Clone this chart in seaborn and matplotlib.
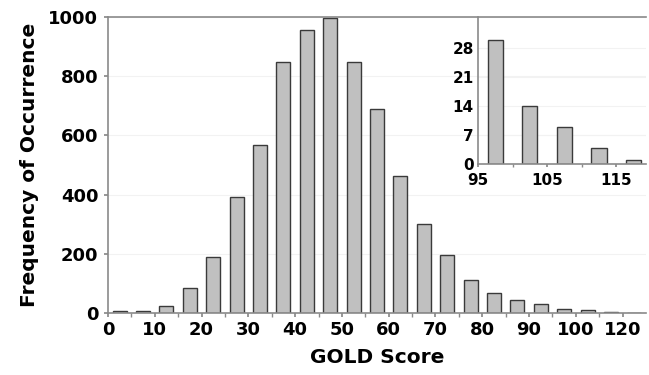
import matplotlib
matplotlib.use("Agg")
import matplotlib.pyplot as plt
import seaborn as sns
import numpy as np
import pandas as pd

# GOLD score bins (5 units wide) and their counts
bin_labels = ["5-10", "10-15", "15-20", "20-25", "25-30", "30-35", "35-40", "40-45",
              "45-50", "50-55", "55-60", "60-65", "65-70", "70-75", "75-80", "80-85",
              "85-90", "90-95", "95-100", "100-105", "105-110", "110-115", "115-120"]
counts = [8, 7, 22, 85, 188, 392, 569, 848, 956, 995, 848, 690, 462, 300, 195, 110,
          67, 45, 30, 14, 9, 4, 1]
x_tick_labels = ["0", "10", "20", "30", "40", "50", "60", "70", "80", "90", "100", "120"]
y_ticks = [0, 200, 400, 600, 800, 1000]

# tail of the distribution shown in the inset
inset_centers = [97.5, 102.5, 107.5, 112.5, 117.5]
inset_counts = [30, 14, 9, 4, 1]
inset_x_ticks = [95, 105, 115]
inset_y_ticks = [0, 7, 14, 21, 28]

sns.set_theme(style="white")
plt.rcParams["font.family"] = ["DejaVu Sans"]
plt.rcParams["font.weight"] = "bold"
plt.rcParams["text.color"] = "black"
plt.rcParams["xtick.color"] = "black"
plt.rcParams["ytick.color"] = "black"
plt.rcParams["axes.labelcolor"] = "black"

bar_fill = "#c0c0c0"
bar_edge = "#3a3a3a"
spine_col = "#8a8a8a"

fig = plt.figure(figsize=(6.49, 3.75), dpi=100)
ax = fig.add_axes([0.1664, 0.1653, 0.829, 0.7894])

df = pd.DataFrame({"bin": bin_labels, "count": counts})
sns.barplot(data=df, x="bin", y="count", color=bar_fill, edgecolor=bar_edge,
            linewidth=1.0, width=0.6, saturation=1, ax=ax)

n = len(bin_labels)
ax.set_xlim(-0.5, n - 0.5)
ax.set_ylim(0, 1000)
bounds = np.arange(n) - 0.5
ax.set_xticks(bounds[::2])
ax.set_xticklabels(x_tick_labels, fontsize=13, fontweight="bold")
ax.set_xticks(bounds, minor=True)
ax.set_yticks(y_ticks)
ax.set_yticklabels([str(v) for v in y_ticks], fontsize=13, fontweight="bold")
ax.tick_params(axis="x", which="both", direction="out", length=3, color=spine_col,
               bottom=True, pad=3)
ax.tick_params(axis="y", direction="out", length=3, color=spine_col, left=True, pad=4)
ax.set_xlabel("GOLD Score", fontsize=14.5, fontweight="bold", labelpad=6)
ax.set_ylabel("Frequency of Occurrence", fontsize=14.5, fontweight="bold", labelpad=7)
ax.grid(axis="y", color="#f2f2f2", linewidth=0.8)
ax.set_axisbelow(True)
for side in ["left", "bottom", "top"]:
    ax.spines[side].set_color(spine_col)
    ax.spines[side].set_linewidth(1.2)
ax.spines["right"].set_visible(False)

# inset with the high-score tail
ins = fig.add_axes([0.7365, 0.5619, 0.2589, 0.3928])
sns.barplot(x=inset_centers, y=inset_counts, native_scale=True, color=bar_fill,
            edgecolor=bar_edge, linewidth=1.0, width=0.44, saturation=1, ax=ins)
ins.set_xlim(95, 119.3)
ins.set_ylim(0, 35.6)
ins.set_xticks(inset_x_ticks)
ins.set_xticklabels([str(v) for v in inset_x_ticks], fontsize=11, fontweight="bold")
ins.set_xticks([100, 110], minor=True)
ins.set_yticks(inset_y_ticks)
ins.set_yticklabels([str(v) for v in inset_y_ticks], fontsize=11, fontweight="bold")
ins.tick_params(axis="x", which="both", direction="out", length=2, color=spine_col,
                bottom=True, pad=4)
ins.tick_params(axis="y", length=0, pad=3)
ins.grid(axis="y", color="#f2f2f2", linewidth=0.8)
ins.set_axisbelow(True)
ins.set_xlabel("")
ins.set_ylabel("")
ins.patch.set_alpha(0)
for side in ["left", "bottom"]:
    ins.spines[side].set_color(spine_col)
    ins.spines[side].set_linewidth(1.2)
ins.spines["right"].set_visible(False)
ins.spines["top"].set_visible(False)

fig.savefig("out.png", dpi=100)
